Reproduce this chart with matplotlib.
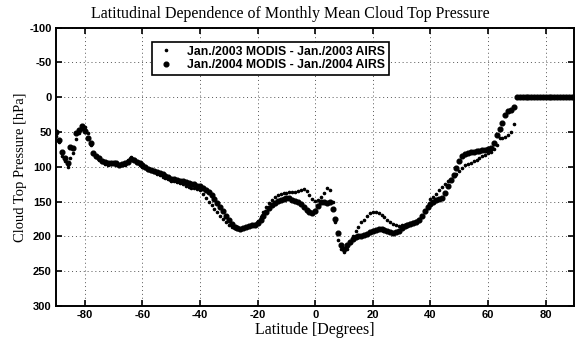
import numpy as np
import matplotlib.pyplot as plt

plt.rcParams['axes.unicode_minus'] = False

# latitude grid (degrees)
lat = np.arange(-90, 91, 1)

# Jan/2003 MODIS - Jan/2003 AIRS (small dots), hPa
diff_2003 = [
    55, 65, 85, 92, 100, 88, 80, 60, 52, 45,          # -90..-81
    43, 52, 68, 82, 86, 90, 93, 96, 97, 96,           # -80..-71
    96, 97, 98, 98, 97, 90, 86, 89, 94, 98,           # -70..-61
    100, 102, 104, 106, 108, 110, 112, 114, 116, 118,  # -60..-51
    120, 121, 122, 123, 125, 127, 129, 130, 131, 132,  # -50..-41
    134, 139, 145, 150, 155, 160, 165, 170, 175, 179,  # -40..-31
    183, 186, 188, 189, 189, 188, 186, 185, 184, 182,  # -30..-21
    178, 172, 165, 158, 152, 147, 144, 141, 139, 138,  # -20..-11
    137, 136, 136, 136, 135, 133, 132, 135, 140, 146,  # -10..-1
    149, 148, 144, 138, 131, 133, 150, 180, 205, 218,  # 0..9
    222, 218, 210, 200, 192, 186, 180, 176, 171, 167,  # 10..19
    165, 165, 166, 169, 172, 176, 180, 182, 184, 185,  # 20..29
    184, 183, 182, 181, 180, 178, 175, 170, 165, 158,  # 30..39
    146, 143, 139, 134, 129, 125, 121, 117, 113, 110,  # 40..49
    106, 101, 98, 96, 94, 92, 90, 88, 85, 83,          # 50..59
    80, 78, 74, 69, 58, 59, 57, 54, 50, 38,            # 60..69
    0, 0, 0, 0, 0, 0, 0, 0, 0, 0,                      # 70..79
    0, 0, 0, 0, 0, 0, 0, 0, 0, 0, 0,                   # 80..90
]

# Jan/2004 MODIS - Jan/2004 AIRS (large dots), hPa
diff_2004 = [
    50, 62, 78, 88, 95, 72, 73, 52, 47, 41,            # -90..-81
    48, 58, 66, 80, 84, 88, 91, 93, 95, 94,            # -80..-71
    94, 95, 97, 96, 95, 93, 89, 90, 93, 95,            # -70..-61
    97, 100, 103, 104, 106, 107, 109, 110, 113, 115,   # -60..-51
    117, 118, 119, 120, 121, 122, 123, 124, 125, 127,  # -50..-41
    128, 130, 133, 136, 140, 146, 152, 158, 164, 171,  # -40..-31
    177, 182, 186, 188, 189, 188, 186, 185, 184, 183,  # -30..-21
    181, 176, 170, 165, 159, 155, 152, 149, 147, 146,  # -20..-11
    145, 145, 147, 149, 151, 154, 158, 162, 165, 166,  # -10..-1
    163, 156, 151, 150, 152, 150, 160, 175, 195, 212,  # 0..9
    218, 213, 208, 204, 201, 200, 199, 198, 196, 194,  # 10..19
    192, 191, 190, 190, 191, 192, 194, 195, 194, 192,  # 20..29
    188, 185, 183, 182, 181, 179, 176, 170, 163, 158,  # 30..39
    154, 150, 147, 146, 145, 138, 127, 119, 112, 102,  # 40..49
    91, 85, 81, 80, 79, 78, 77, 77, 76, 76,            # 50..59
    75, 73, 66, 54, 46, 37, 25, 20, 18, 14,            # 60..69
    0, 0, 0, 0, 0, 0, 0, 0, 0, 0,                      # 70..79
    0, 0, 0, 0, 0, 0, 0, 0, 0, 0, 0,                   # 80..90
]

xticks = [-80, -60, -40, -20, 0, 20, 40, 60, 80]
yticks = [-100, -50, 0, 50, 100, 150, 200, 250, 300]

fig = plt.figure(figsize=(5.81, 3.44), dpi=100)
ax = fig.add_axes([0.0964, 0.1105, 0.8924, 0.809])

ax.plot(lat, diff_2003, linestyle='none', marker='o', markersize=1.6,
        color='black', label='Jan./2003 MODIS - Jan./2003 AIRS')
ax.plot(lat, diff_2004, linestyle='none', marker='o', markersize=3.4,
        color='black', label='Jan./2004 MODIS - Jan./2004 AIRS')

ax.set_xlim(-90, 90)
ax.set_ylim(300, -100)
ax.set_xticks(xticks)
ax.set_yticks(yticks)
ax.set_xticklabels([str(t) for t in xticks], fontfamily='Liberation Sans',
                   fontweight='bold', fontsize=8)
ax.set_yticklabels([str(t) for t in yticks], fontfamily='Liberation Sans',
                   fontweight='bold', fontsize=8)
ax.tick_params(direction='in', top=True, right=True, length=4, width=1.2, pad=3)
ax.grid(True, color='#555555', linestyle=(0, (1, 3)), linewidth=0.7)
for s in ax.spines.values():
    s.set_linewidth(1.4)

ax.set_xlabel('Latitude [Degrees]', fontfamily='Liberation Serif',
              fontsize=11.5, labelpad=1)
ax.set_ylabel('Cloud Top Pressure [hPa]', fontfamily='Liberation Serif',
              fontsize=10.5, labelpad=2)
fig.text(0.5, 0.958, 'Latitudinal Dependence of Monthly Mean Cloud Top Pressure',
         ha='center', va='center', fontfamily='Liberation Serif', fontsize=11.5)

leg = ax.legend(loc='upper left', bbox_to_anchor=(0.185, 0.9486),
                borderaxespad=0, fancybox=False, edgecolor='black',
                framealpha=1, handlelength=1.7, handletextpad=0.9,
                borderpad=0.3, labelspacing=0.1,
                prop={'family': 'Liberation Sans', 'weight': 'bold', 'size': 8.8})
leg.get_frame().set_linewidth(1.2)

fig.savefig('out.png', dpi=100)
